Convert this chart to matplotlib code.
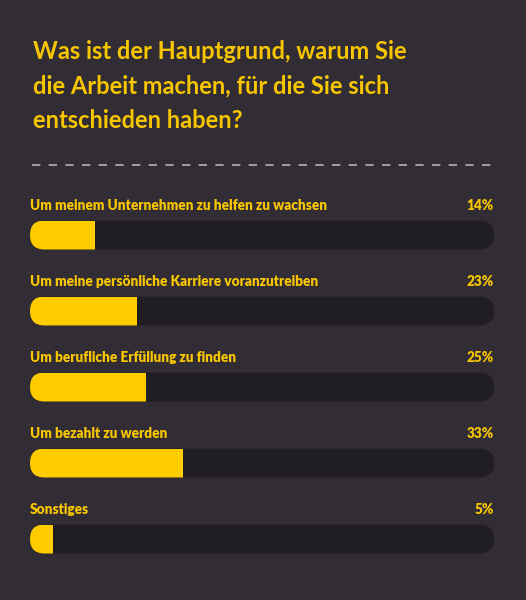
import matplotlib.pyplot as plt
from matplotlib.patches import FancyBboxPatch
from matplotlib.lines import Line2D

title = "Was ist der Hauptgrund, warum Sie\ndie Arbeit machen, für die Sie sich\nentschieden haben?"
categories = [
    "Um meinem Unternehmen zu helfen zu wachsen",
    "Um meine persönliche Karriere voranzutreiben",
    "Um berufliche Erfüllung zu finden",
    "Um bezahlt zu werden",
    "Sonstiges",
]
values = [14, 23, 25, 33, 5]

BG = "#322d34"
TRACK = "#211e23"
YELLOW = "#ffcc00"
TEXT_YELLOW = "#f7c600"

W, H, DPI = 526, 600, 100
plt.rcParams['font.family'] = ['Lato', 'DejaVu Sans']

fig = plt.figure(figsize=(W / DPI, H / DPI), dpi=DPI, facecolor=BG)

# title + dashed separator (pixel positions converted to figure fractions)
fig.text(33 / W, 1 - 40 / H, title, color=TEXT_YELLOW, fontsize=17, fontweight='bold',
         ha='left', va='top', linespacing=1.6)
fig.add_artist(Line2D([32 / W, 494 / W], [1 - 165 / H, 1 - 165 / H], color="#b5b3b6",
                      lw=1.2, dashes=(5, 5)))

# bar area
left_px, right_px = 30, 494
top_px, row_px = 197, 76
n = len(values)
ax = fig.add_axes([left_px / W, 1 - (top_px + n * row_px) / H,
                   (right_px - left_px) / W, n * row_px / H])
ax.set_facecolor(BG)
ax.set_xlim(0, 100)
ax.set_ylim(n - 0.5, -0.5)
ax.axis('off')

bar_h = 29 / row_px
x_per_px = 100 / (right_px - left_px)
y_per_px = 1 / row_px
radius = 14.5 * x_per_px
aspect = y_per_px / x_per_px

for i, (cat, v) in enumerate(zip(categories, values)):
    track = FancyBboxPatch((0, i - bar_h / 2), 100, bar_h,
                           boxstyle=f"round,pad=0,rounding_size={radius}",
                           mutation_aspect=aspect, fc=TRACK, ec='none')
    ax.add_patch(track)
    bars = ax.barh(i, v, height=bar_h, left=0, color=YELLOW)
    for b in bars:
        b.set_clip_path(track)
    ax.annotate(cat, (0, i), xytext=(0, 21.5), textcoords='offset points',
                ha='left', va='center', color=TEXT_YELLOW, fontsize=9.8, fontweight='heavy')
    ax.annotate(f"{v}%", (100, i), xytext=(0, 21.5), textcoords='offset points',
                ha='right', va='center', color=TEXT_YELLOW, fontsize=9.8, fontweight='heavy')

fig.savefig("out.png", dpi=DPI, facecolor=BG)
